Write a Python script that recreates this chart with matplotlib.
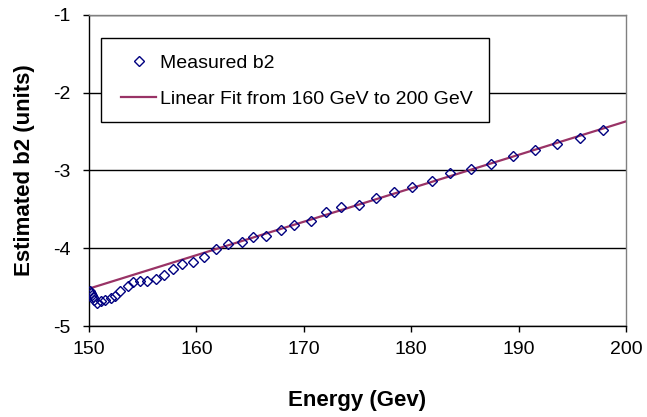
import numpy as np
import matplotlib
matplotlib.use("Agg")
import matplotlib.pyplot as plt
from matplotlib.patches import Rectangle

plt.rcParams["font.family"] = ["Liberation Sans", "DejaVu Sans"]
plt.rcParams["axes.unicode_minus"] = False

# Measured b2 versus beam energy
energy = [150.05, 150.15, 150.25, 150.35, 150.5, 150.7, 151.1, 151.5, 152.0,
          152.4, 152.9, 153.6, 154.1, 154.7, 155.4, 156.2, 157.0, 157.8,
          158.7, 159.7, 160.7, 161.8, 162.9, 164.2, 165.3, 166.5, 167.9,
          169.1, 170.7, 172.1, 173.5, 175.1, 176.7, 178.4, 180.1, 181.9,
          183.6, 185.6, 187.4, 189.5, 191.5, 193.6, 195.7, 197.9]
b2 = [-4.55, -4.57, -4.60, -4.63, -4.66, -4.70, -4.68, -4.66, -4.64,
      -4.61, -4.55, -4.49, -4.44, -4.42, -4.42, -4.40, -4.34, -4.27,
      -4.20, -4.18, -4.11, -4.01, -3.95, -3.92, -3.86, -3.84, -3.76,
      -3.70, -3.65, -3.53, -3.47, -3.44, -3.36, -3.28, -3.22, -3.14,
      -3.04, -2.98, -2.92, -2.81, -2.74, -2.66, -2.59, -2.48]

fit_lo, fit_hi = 160, 200
x_ticks = [150, 160, 170, 180, 190, 200]
y_ticks = [-5, -4, -3, -2, -1]

e = np.asarray(energy)
b = np.asarray(b2)
sel = (e >= fit_lo) & (e <= fit_hi)
slope, intercept = np.polyfit(e[sel], b[sel], 1)
xfit = np.array([x_ticks[0], x_ticks[-1]])
yfit = slope * xfit + intercept

fig = plt.figure(figsize=(6.47, 4.17), dpi=100)
ax = fig.add_axes([0.1376, 0.2182, 0.8299, 0.7465])

ax.plot(xfit, yfit, color="#993366", lw=1.6, zorder=2,
        label="Linear Fit from 160 GeV to 200 GeV")
ax.plot(e, b, linestyle="none", marker="D", markersize=5.2,
        markerfacecolor="none", markeredgecolor="#000080",
        markeredgewidth=1.0, zorder=3, label="Measured b2")

ax.set_xlim(x_ticks[0], x_ticks[-1])
ax.set_ylim(y_ticks[0], y_ticks[-1])
ax.set_xticks(x_ticks)
ax.set_yticks(y_ticks)
ax.tick_params(axis="both", direction="out", length=4.5, width=1,
               labelsize=14, colors="black")
ax.tick_params(axis="y", pad=9)
ax.tick_params(axis="x", pad=6)
ax.yaxis.grid(True, color="black", lw=1)
ax.set_axisbelow(True)

for side in ("left", "bottom"):
    ax.spines[side].set_color("black")
    ax.spines[side].set_linewidth(1)
for side in ("top", "right"):
    ax.spines[side].set_color("#808080")
    ax.spines[side].set_linewidth(1)

ax.set_xlabel("Energy (Gev)", fontsize=16, fontweight="bold",
              ha="center", va="center")
ax.xaxis.set_label_coords(0.5, -0.238)
ax.set_ylabel("Estimated b2 (units)", fontsize=16, fontweight="bold",
              ha="center", va="center")
ax.yaxis.set_label_coords(-0.121, 0.5)

# Legend box drawn separately so its frame can be sized freely
ax.add_patch(Rectangle((0.0223, 0.6553), 0.7226, 0.2699,
                       transform=ax.transAxes, facecolor="white",
                       edgecolor="black", lw=1, zorder=4))
handles, labels = ax.get_legend_handles_labels()
leg = ax.legend(handles[::-1], labels[::-1], loc="upper left",
                bbox_to_anchor=(0.0596, 0.873), fontsize=14, frameon=False,
                borderpad=0, labelspacing=0.95, handlelength=1.8,
                handletextpad=0.2, borderaxespad=0)
leg.set_zorder(5)

fig.savefig("out.png", dpi=100)
